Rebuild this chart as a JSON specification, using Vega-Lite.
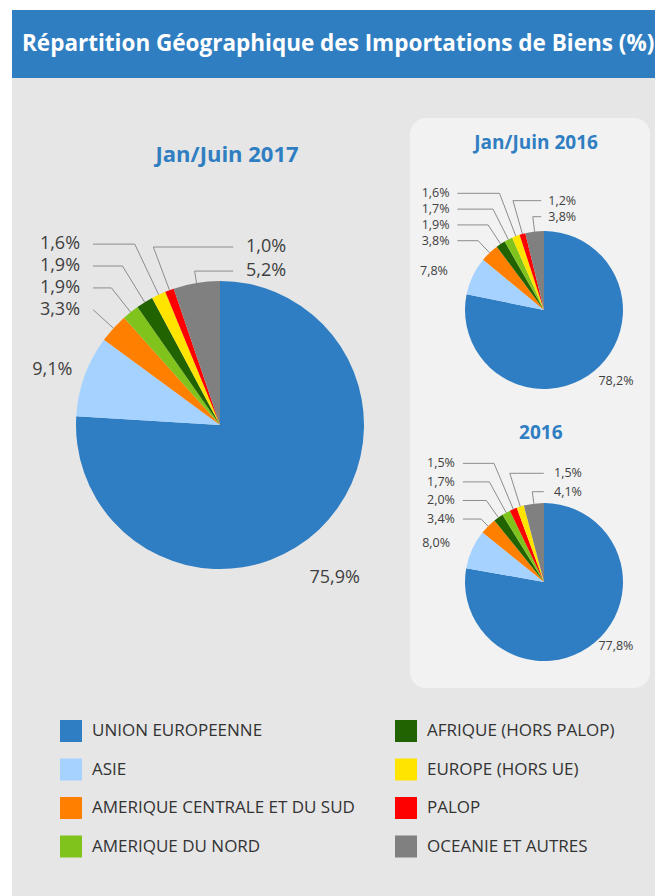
{
  "$schema": "https://vega.github.io/schema/vega-lite/v6.json",
  "background": "#e6e6e6",
  "padding": 0,
  "spacing": 0,
  "config": {
    "view": {"stroke": null},
    "axis": {"disable": true},
    "font": "Open Sans",
    "text": {"font": "Open Sans"},
    "concat": {"spacing": 0}
  },
  "datasets": {
    "pies": [
      {"pie": "p17", "region": "UNION EUROPEENNE", "v": 75.9, "k": 1},
      {"pie": "p17", "region": "ASIE", "v": 9.1, "k": 2},
      {"pie": "p17", "region": "AMERIQUE CENTRALE ET DU SUD", "v": 3.3, "k": 3},
      {"pie": "p17", "region": "AMERIQUE DU NORD", "v": 1.9, "k": 4},
      {"pie": "p17", "region": "AFRIQUE (HORS PALOP)", "v": 1.9, "k": 5},
      {"pie": "p17", "region": "EUROPE (HORS UE)", "v": 1.6, "k": 6},
      {"pie": "p17", "region": "PALOP", "v": 1.0, "k": 7},
      {"pie": "p17", "region": "OCEANIE  ET AUTRES", "v": 5.2, "k": 8},
      {"pie": "p16h", "region": "UNION EUROPEENNE", "v": 78.2, "k": 1},
      {"pie": "p16h", "region": "ASIE", "v": 7.8, "k": 2},
      {"pie": "p16h", "region": "AMERIQUE CENTRALE ET DU SUD", "v": 3.8, "k": 3},
      {"pie": "p16h", "region": "AFRIQUE (HORS PALOP)", "v": 1.9, "k": 4},
      {"pie": "p16h", "region": "AMERIQUE DU NORD", "v": 1.7, "k": 5},
      {"pie": "p16h", "region": "EUROPE (HORS UE)", "v": 1.6, "k": 6},
      {"pie": "p16h", "region": "PALOP", "v": 1.2, "k": 7},
      {"pie": "p16h", "region": "OCEANIE  ET AUTRES", "v": 3.8, "k": 8},
      {"pie": "p16", "region": "UNION EUROPEENNE", "v": 77.8, "k": 1},
      {"pie": "p16", "region": "ASIE", "v": 8.0, "k": 2},
      {"pie": "p16", "region": "AMERIQUE CENTRALE ET DU SUD", "v": 3.4, "k": 3},
      {"pie": "p16", "region": "AFRIQUE (HORS PALOP)", "v": 2.0, "k": 4},
      {"pie": "p16", "region": "AMERIQUE DU NORD", "v": 1.7, "k": 5},
      {"pie": "p16", "region": "PALOP", "v": 1.5, "k": 6},
      {"pie": "p16", "region": "EUROPE (HORS UE)", "v": 1.5, "k": 7},
      {"pie": "p16", "region": "OCEANIE  ET AUTRES", "v": 4.1, "k": 8}
    ],
    "regions": [
      {"region": "UNION EUROPEENNE"},
      {"region": "ASIE"},
      {"region": "AMERIQUE CENTRALE ET DU SUD"},
      {"region": "AMERIQUE DU NORD"},
      {"region": "AFRIQUE (HORS PALOP)"},
      {"region": "EUROPE (HORS UE)"},
      {"region": "PALOP"},
      {"region": "OCEANIE  ET AUTRES"}
    ]
  },
  "resolve": {"scale": {"color": "independent", "x": "independent", "y": "independent"}, "legend": {"color": "independent"}},
  "vconcat": [
    {"width": 655, "height": 10, "view": {"fill": "#ffffff", "stroke": null}, "data": {"values": []}, "mark": "rect"},
    {
      "spacing": 0,
      "resolve": {"scale": {"color": "independent", "x": "independent", "y": "independent"}, "legend": {"color": "independent"}},
      "hconcat": [
        {"width": 12, "height": 886, "view": {"fill": "#ffffff", "stroke": null}, "data": {"values": []}, "mark": "rect"},
        {
          "spacing": 0,
          "resolve": {"scale": {"color": "independent", "x": "independent", "y": "independent"}, "legend": {"color": "independent"}},
          "vconcat": [
            {
              "width": 643, "height": 68,
              "view": {"fill": "#2f7ec2", "stroke": null},
              "data": {"values": []},
              "mark": "rect",
              "title": {"text": "Répartition Géographique des Importations de Biens (%)", "anchor": "start", "frame": "group", "orient": "top", "offset": -56, "baseline": "middle", "dx": 10, "fontSize": 22.5, "font": "Open Sans", "fontWeight": "bold", "color": "#ffffff"}
            },
            {
              "spacing": 0,
              "resolve": {"scale": {"color": "independent", "x": "independent", "y": "independent"}, "legend": {"color": "independent"}},
              "hconcat": [
                {
                  "width": 398, "height": 622,
                  "layer": [
                    {
                      "data": {"name": "pies"},
                      "transform": [
                        {"filter": "datum.pie === 'p17'"},
                        {"window": [{"op": "sum", "field": "v", "as": "cum"}], "sort": [{"field": "k", "order": "ascending"}], "frame": [null, 0]},
                        {"joinaggregate": [{"op": "sum", "field": "v", "as": "tot"}]},
                        {"calculate": "100 * (datum.cum - datum.v) / datum.tot", "as": "a0"},
                        {"calculate": "100 * datum.cum / datum.tot", "as": "a1"},
                        {"calculate": "PI * (datum.a0 + datum.a1) / 100", "as": "am"},
                        {"calculate": "datum.k <= 2 ? 'o' : (datum.k <= 6 ? 'l' : 'r')", "as": "side"},
                        {"calculate": "datum.side === 'o' ? (datum.k === 1 ? 1.163 : 1.239) * sin(datum.am) : (datum.side === 'l' ? -0.972 : 0.181)", "as": "lx"},
                        {"calculate": "datum.side === 'o' ? (datum.k === 1 ? 1.46 : 1.12) * cos(datum.am) : (datum.side === 'l' ? 0.80 + (datum.k - 3) * 0.152 : 1.236 - (datum.k - 7) * 0.167)", "as": "ly"},
                        {"calculate": "datum.side === 'l' ? -0.972 + 0.09 : 0.181 - 0.09", "as": "p0x"},
                        {"calculate": "datum.side === 'l' ? max(sin(datum.am) * datum.ly / cos(datum.am), datum.p0x) : min(sin(datum.am) * datum.ly / cos(datum.am), datum.p0x)", "as": "ex"},
                        {"calculate": "sin(datum.am)", "as": "qx"},
                        {"calculate": "cos(datum.am)", "as": "qy"},
                        {"calculate": "replace(format(datum.v, '.1f'), '.', ',') + '%'", "as": "lab"}
                      ],
                      "layer": [
                        {
                          "mark": {"type": "arc", "radius": 144},
                          "encoding": {
                            "x": {"datum": 0, "type": "quantitative", "scale": {"domain": [-1.4444, 1.3194], "zero": false, "nice": false}},
                            "y": {"datum": 0, "type": "quantitative", "scale": {"domain": [-1.9097, 2.4097], "zero": false, "nice": false}},
                            "theta": {"field": "a0", "type": "quantitative", "stack": null, "scale": {"domain": [0, 100], "range": [0, 6.283185307]}},
                            "theta2": {"field": "a1"},
                            "color": {"field": "region", "type": "nominal", "legend": null, "scale": {"domain": ["UNION EUROPEENNE", "ASIE", "AMERIQUE CENTRALE ET DU SUD", "AMERIQUE DU NORD", "AFRIQUE (HORS PALOP)", "EUROPE (HORS UE)", "PALOP", "OCEANIE  ET AUTRES"], "range": ["#2f7dc2", "#a6d2ff", "#ff8000", "#80c31c", "#216301", "#ffe400", "#ff0000", "#808080"]}}
                          }
                        },
                        {
                          "transform": [{"filter": "datum.k >= 3"}],
                          "mark": {"type": "rule", "color": "#8c8c8c", "strokeWidth": 1},
                          "encoding": {
                            "x": {"field": "p0x", "type": "quantitative", "scale": {"domain": [-1.4444, 1.3194], "zero": false, "nice": false}},
                            "y": {"field": "ly", "type": "quantitative", "scale": {"domain": [-1.9097, 2.4097], "zero": false, "nice": false}},
                            "x2": {"field": "ex"},
                            "y2": {"field": "ly"}
                          }
                        },
                        {
                          "transform": [{"filter": "datum.k >= 3"}],
                          "mark": {"type": "rule", "color": "#8c8c8c", "strokeWidth": 1},
                          "encoding": {
                            "x": {"field": "ex", "type": "quantitative", "scale": {"domain": [-1.4444, 1.3194], "zero": false, "nice": false}},
                            "y": {"field": "ly", "type": "quantitative", "scale": {"domain": [-1.9097, 2.4097], "zero": false, "nice": false}},
                            "x2": {"field": "qx"},
                            "y2": {"field": "qy"}
                          }
                        },
                        {
                          "transform": [{"filter": "datum.side === 'o'"}],
                          "mark": {"type": "text", "align": "center", "baseline": "middle", "fontSize": 18, "color": "#404040"},
                          "encoding": {
                            "x": {"field": "lx", "type": "quantitative", "scale": {"domain": [-1.4444, 1.3194], "zero": false, "nice": false}},
                            "y": {"field": "ly", "type": "quantitative", "scale": {"domain": [-1.9097, 2.4097], "zero": false, "nice": false}},
                            "text": {"field": "lab"}
                          }
                        },
                        {
                          "transform": [{"filter": "datum.side === 'l'"}],
                          "mark": {"type": "text", "align": "right", "baseline": "middle", "fontSize": 18, "color": "#404040"},
                          "encoding": {
                            "x": {"field": "lx", "type": "quantitative", "scale": {"domain": [-1.4444, 1.3194], "zero": false, "nice": false}},
                            "y": {"field": "ly", "type": "quantitative", "scale": {"domain": [-1.9097, 2.4097], "zero": false, "nice": false}},
                            "text": {"field": "lab"}
                          }
                        },
                        {
                          "transform": [{"filter": "datum.side === 'r'"}],
                          "mark": {"type": "text", "align": "left", "baseline": "middle", "fontSize": 18, "color": "#404040"},
                          "encoding": {
                            "x": {"field": "lx", "type": "quantitative", "scale": {"domain": [-1.4444, 1.3194], "zero": false, "nice": false}},
                            "y": {"field": "ly", "type": "quantitative", "scale": {"domain": [-1.9097, 2.4097], "zero": false, "nice": false}},
                            "text": {"field": "lab"}
                          }
                        }
                      ]
                    },
                    {
                      "data": {"values": [{"t": "Jan/Juin 2017"}]},
                      "mark": {"type": "text", "align": "center", "baseline": "middle", "fontSize": 22, "fontWeight": "bold", "color": "#2f7ec2"},
                      "encoding": {
                        "x": {"datum": 0.049, "type": "quantitative", "scale": {"domain": [-1.4444, 1.3194], "zero": false, "nice": false}},
                        "y": {"datum": 1.875, "type": "quantitative", "scale": {"domain": [-1.9097, 2.4097], "zero": false, "nice": false}},
                        "text": {"field": "t"}
                      }
                    }
                  ]
                },
                {
                  "spacing": 0,
                  "resolve": {"scale": {"color": "independent", "x": "independent", "y": "independent"}, "legend": {"color": "independent"}},
                  "vconcat": [
                    {"width": 240, "height": 40, "data": {"values": []}, "mark": "rect"},
                    {
                      "width": 240, "height": 570,
                      "view": {"fill": "#f2f2f2", "cornerRadius": 16, "stroke": null},
                      "resolve": {"scale": {"y": "independent"}},
                      "layer": [
                        {
                          "layer": [
                            {
                              "data": {"name": "pies"},
                              "transform": [
                                {"filter": "datum.pie === 'p16h'"},
                                {"window": [{"op": "sum", "field": "v", "as": "cum"}], "sort": [{"field": "k", "order": "ascending"}], "frame": [null, 0]},
                                {"joinaggregate": [{"op": "sum", "field": "v", "as": "tot"}]},
                                {"calculate": "100 * (datum.cum - datum.v) / datum.tot", "as": "a0"},
                                {"calculate": "100 * datum.cum / datum.tot", "as": "a1"},
                                {"calculate": "PI * (datum.a0 + datum.a1) / 100", "as": "am"},
                                {"calculate": "datum.k <= 2 ? 'o' : (datum.k <= 6 ? 'l' : 'r')", "as": "side"},
                                {"calculate": "datum.side === 'o' ? (datum.k === 1 ? 1.44 : 1.543) * sin(datum.am) : (datum.side === 'l' ? -1.196 : 0.054)", "as": "lx"},
                                {"calculate": "datum.side === 'o' ? (datum.k === 1 ? 1.16 : 1.14) * cos(datum.am) : (datum.side === 'l' ? 0.877 + (datum.k - 3) * 0.2 : 1.384 - (datum.k - 7) * 0.203)", "as": "ly"},
                                {"calculate": "datum.side === 'l' ? -1.196 + 0.1 : 0.054 - 0.09", "as": "p0x"},
                                {"calculate": "datum.side === 'l' ? max(sin(datum.am) * datum.ly / cos(datum.am), datum.p0x) : min(sin(datum.am) * datum.ly / cos(datum.am), datum.p0x)", "as": "ex"},
                                {"calculate": "sin(datum.am)", "as": "qx"},
                                {"calculate": "cos(datum.am)", "as": "qy"},
                                {"calculate": "replace(format(datum.v, '.1f'), '.', ',') + '%'", "as": "lab"}
                              ],
                              "layer": [
                                {
                                  "mark": {"type": "arc", "radius": 79},
                                  "encoding": {
                                    "x": {"datum": 0, "type": "quantitative", "scale": {"domain": [-1.6962, 1.3418], "zero": false, "nice": false}},
                                    "y": {"datum": 0, "type": "quantitative", "scale": {"domain": [-4.7848, 2.4304], "zero": false, "nice": false}},
                                    "theta": {"field": "a0", "type": "quantitative", "stack": null, "scale": {"domain": [0, 100], "range": [0, 6.283185307]}},
                                    "theta2": {"field": "a1"},
                                    "color": {"field": "region", "type": "nominal", "legend": null, "scale": {"domain": ["UNION EUROPEENNE", "ASIE", "AMERIQUE CENTRALE ET DU SUD", "AMERIQUE DU NORD", "AFRIQUE (HORS PALOP)", "EUROPE (HORS UE)", "PALOP", "OCEANIE  ET AUTRES"], "range": ["#2f7dc2", "#a6d2ff", "#ff8000", "#80c31c", "#216301", "#ffe400", "#ff0000", "#808080"]}}
                                  }
                                },
                                {
                                  "transform": [{"filter": "datum.k >= 3"}],
                                  "mark": {"type": "rule", "color": "#8c8c8c", "strokeWidth": 1},
                                  "encoding": {
                                    "x": {"field": "p0x", "type": "quantitative", "scale": {"domain": [-1.6962, 1.3418], "zero": false, "nice": false}},
                                    "y": {"field": "ly", "type": "quantitative", "scale": {"domain": [-4.7848, 2.4304], "zero": false, "nice": false}},
                                    "x2": {"field": "ex"},
                                    "y2": {"field": "ly"}
                                  }
                                },
                                {
                                  "transform": [{"filter": "datum.k >= 3"}],
                                  "mark": {"type": "rule", "color": "#8c8c8c", "strokeWidth": 1},
                                  "encoding": {
                                    "x": {"field": "ex", "type": "quantitative", "scale": {"domain": [-1.6962, 1.3418], "zero": false, "nice": false}},
                                    "y": {"field": "ly", "type": "quantitative", "scale": {"domain": [-4.7848, 2.4304], "zero": false, "nice": false}},
                                    "x2": {"field": "qx"},
                                    "y2": {"field": "qy"}
                                  }
                                },
                                {
                                  "transform": [{"filter": "datum.side === 'o'"}],
                                  "mark": {"type": "text", "align": "center", "baseline": "middle", "fontSize": 12.5, "color": "#404040"},
                                  "encoding": {
                                    "x": {"field": "lx", "type": "quantitative", "scale": {"domain": [-1.6962, 1.3418], "zero": false, "nice": false}},
                                    "y": {"field": "ly", "type": "quantitative", "scale": {"domain": [-4.7848, 2.4304], "zero": false, "nice": false}},
                                    "text": {"field": "lab"}
                                  }
                                },
                                {
                                  "transform": [{"filter": "datum.side === 'l'"}],
                                  "mark": {"type": "text", "align": "right", "baseline": "middle", "fontSize": 12.5, "color": "#404040"},
                                  "encoding": {
                                    "x": {"field": "lx", "type": "quantitative", "scale": {"domain": [-1.6962, 1.3418], "zero": false, "nice": false}},
                                    "y": {"field": "ly", "type": "quantitative", "scale": {"domain": [-4.7848, 2.4304], "zero": false, "nice": false}},
                                    "text": {"field": "lab"}
                                  }
                                },
                                {
                                  "transform": [{"filter": "datum.side === 'r'"}],
                                  "mark": {"type": "text", "align": "left", "baseline": "middle", "fontSize": 12.5, "color": "#404040"},
                                  "encoding": {
                                    "x": {"field": "lx", "type": "quantitative", "scale": {"domain": [-1.6962, 1.3418], "zero": false, "nice": false}},
                                    "y": {"field": "ly", "type": "quantitative", "scale": {"domain": [-4.7848, 2.4304], "zero": false, "nice": false}},
                                    "text": {"field": "lab"}
                                  }
                                }
                              ]
                            },
                            {
                              "data": {"values": [{"t": "Jan/Juin 2016"}]},
                              "mark": {"type": "text", "align": "center", "baseline": "middle", "fontSize": 19, "fontWeight": "bold", "color": "#2f7ec2"},
                              "encoding": {
                                "x": {"datum": -0.10, "type": "quantitative", "scale": {"domain": [-1.6962, 1.3418], "zero": false, "nice": false}},
                                "y": {"datum": 2.114, "type": "quantitative", "scale": {"domain": [-4.7848, 2.4304], "zero": false, "nice": false}},
                                "text": {"field": "t"}
                              }
                            }
                          ]
                        },
                        {
                          "layer": [
                            {
                              "data": {"name": "pies"},
                              "transform": [
                                {"filter": "datum.pie === 'p16'"},
                                {"window": [{"op": "sum", "field": "v", "as": "cum"}], "sort": [{"field": "k", "order": "ascending"}], "frame": [null, 0]},
                                {"joinaggregate": [{"op": "sum", "field": "v", "as": "tot"}]},
                                {"calculate": "100 * (datum.cum - datum.v) / datum.tot", "as": "a0"},
                                {"calculate": "100 * datum.cum / datum.tot", "as": "a1"},
                                {"calculate": "PI * (datum.a0 + datum.a1) / 100", "as": "am"},
                                {"calculate": "datum.k <= 2 ? 'o' : (datum.k <= 6 ? 'l' : 'r')", "as": "side"},
                                {"calculate": "datum.side === 'o' ? (datum.k === 1 ? 1.417 : 1.50) * sin(datum.am) : (datum.side === 'l' ? -1.127 : 0.127)", "as": "lx"},
                                {"calculate": "datum.side === 'o' ? (datum.k === 1 ? 1.057 : 1.19) * cos(datum.am) : (datum.side === 'l' ? 0.797 + (datum.k - 3) * 0.235 : 1.376 - (datum.k - 7) * 0.233)", "as": "ly"},
                                {"calculate": "datum.side === 'l' ? -1.127 + 0.1 : 0.127 - 0.13", "as": "p0x"},
                                {"calculate": "datum.side === 'l' ? max(sin(datum.am) * datum.ly / cos(datum.am), datum.p0x) : min(sin(datum.am) * datum.ly / cos(datum.am), datum.p0x)", "as": "ex"},
                                {"calculate": "sin(datum.am)", "as": "qx"},
                                {"calculate": "cos(datum.am)", "as": "qy"},
                                {"calculate": "replace(format(datum.v, '.1f'), '.', ',') + '%'", "as": "lab"}
                              ],
                              "layer": [
                                {
                                  "mark": {"type": "arc", "radius": 79},
                                  "encoding": {
                                    "x": {"datum": 0, "type": "quantitative", "scale": {"domain": [-1.6962, 1.3418], "zero": false, "nice": false}},
                                    "y": {"datum": 0, "type": "quantitative", "scale": {"domain": [-1.3418, 5.8734], "zero": false, "nice": false}},
                                    "theta": {"field": "a0", "type": "quantitative", "stack": null, "scale": {"domain": [0, 100], "range": [0, 6.283185307]}},
                                    "theta2": {"field": "a1"},
                                    "color": {"field": "region", "type": "nominal", "legend": null, "scale": {"domain": ["UNION EUROPEENNE", "ASIE", "AMERIQUE CENTRALE ET DU SUD", "AMERIQUE DU NORD", "AFRIQUE (HORS PALOP)", "EUROPE (HORS UE)", "PALOP", "OCEANIE  ET AUTRES"], "range": ["#2f7dc2", "#a6d2ff", "#ff8000", "#80c31c", "#216301", "#ffe400", "#ff0000", "#808080"]}}
                                  }
                                },
                                {
                                  "transform": [{"filter": "datum.k >= 3"}],
                                  "mark": {"type": "rule", "color": "#8c8c8c", "strokeWidth": 1},
                                  "encoding": {
                                    "x": {"field": "p0x", "type": "quantitative", "scale": {"domain": [-1.6962, 1.3418], "zero": false, "nice": false}},
                                    "y": {"field": "ly", "type": "quantitative", "scale": {"domain": [-1.3418, 5.8734], "zero": false, "nice": false}},
                                    "x2": {"field": "ex"},
                                    "y2": {"field": "ly"}
                                  }
                                },
                                {
                                  "transform": [{"filter": "datum.k >= 3"}],
                                  "mark": {"type": "rule", "color": "#8c8c8c", "strokeWidth": 1},
                                  "encoding": {
                                    "x": {"field": "ex", "type": "quantitative", "scale": {"domain": [-1.6962, 1.3418], "zero": false, "nice": false}},
                                    "y": {"field": "ly", "type": "quantitative", "scale": {"domain": [-1.3418, 5.8734], "zero": false, "nice": false}},
                                    "x2": {"field": "qx"},
                                    "y2": {"field": "qy"}
                                  }
                                },
                                {
                                  "transform": [{"filter": "datum.side === 'o'"}],
                                  "mark": {"type": "text", "align": "center", "baseline": "middle", "fontSize": 12.5, "color": "#404040"},
                                  "encoding": {
                                    "x": {"field": "lx", "type": "quantitative", "scale": {"domain": [-1.6962, 1.3418], "zero": false, "nice": false}},
                                    "y": {"field": "ly", "type": "quantitative", "scale": {"domain": [-1.3418, 5.8734], "zero": false, "nice": false}},
                                    "text": {"field": "lab"}
                                  }
                                },
                                {
                                  "transform": [{"filter": "datum.side === 'l'"}],
                                  "mark": {"type": "text", "align": "right", "baseline": "middle", "fontSize": 12.5, "color": "#404040"},
                                  "encoding": {
                                    "x": {"field": "lx", "type": "quantitative", "scale": {"domain": [-1.6962, 1.3418], "zero": false, "nice": false}},
                                    "y": {"field": "ly", "type": "quantitative", "scale": {"domain": [-1.3418, 5.8734], "zero": false, "nice": false}},
                                    "text": {"field": "lab"}
                                  }
                                },
                                {
                                  "transform": [{"filter": "datum.side === 'r'"}],
                                  "mark": {"type": "text", "align": "left", "baseline": "middle", "fontSize": 12.5, "color": "#404040"},
                                  "encoding": {
                                    "x": {"field": "lx", "type": "quantitative", "scale": {"domain": [-1.6962, 1.3418], "zero": false, "nice": false}},
                                    "y": {"field": "ly", "type": "quantitative", "scale": {"domain": [-1.3418, 5.8734], "zero": false, "nice": false}},
                                    "text": {"field": "lab"}
                                  }
                                }
                              ]
                            },
                            {
                              "data": {"values": [{"t": "2016"}]},
                              "mark": {"type": "text", "align": "center", "baseline": "middle", "fontSize": 19, "fontWeight": "bold", "color": "#2f7ec2"},
                              "encoding": {
                                "x": {"datum": -0.04, "type": "quantitative", "scale": {"domain": [-1.6962, 1.3418], "zero": false, "nice": false}},
                                "y": {"datum": 1.886, "type": "quantitative", "scale": {"domain": [-1.3418, 5.8734], "zero": false, "nice": false}},
                                "text": {"field": "t"}
                              }
                            }
                          ]
                        }
                      ]
                    }
                  ]
                }
              ]
            },
            {
              "width": 643, "height": 196,
              "data": {"name": "regions"},
              "mark": {"type": "rect", "opacity": 0},
              "encoding": {
                "color": {
                  "field": "region", "type": "nominal",
                  "scale": {"domain": ["UNION EUROPEENNE", "ASIE", "AMERIQUE CENTRALE ET DU SUD", "AMERIQUE DU NORD", "AFRIQUE (HORS PALOP)", "EUROPE (HORS UE)", "PALOP", "OCEANIE  ET AUTRES"], "range": ["#2f7dc2", "#a6d2ff", "#ff8000", "#80c31c", "#216301", "#ffe400", "#ff0000", "#808080"]},
                  "legend": {
                    "orient": "none", "legendX": 48, "legendY": 20,
                    "title": null, "columns": 2, "direction": "vertical",
                    "values": ["UNION EUROPEENNE", "ASIE", "AMERIQUE CENTRALE ET DU SUD", "AMERIQUE DU NORD", "AFRIQUE (HORS PALOP)", "EUROPE (HORS UE)", "PALOP", "OCEANIE  ET AUTRES"],
                    "symbolType": "square", "symbolSize": 484, "symbolStrokeWidth": 0, "symbolOpacity": 1,
                    "labelFont": "Open Sans", "labelFontSize": 17, "labelColor": "#333333", "labelOffset": 10, "labelLimit": 500,
                    "rowPadding": 16.5, "columnPadding": 40, "padding": 0
                  }
                }
              }
            }
          ]
        }
      ]
    }
  ]
}
